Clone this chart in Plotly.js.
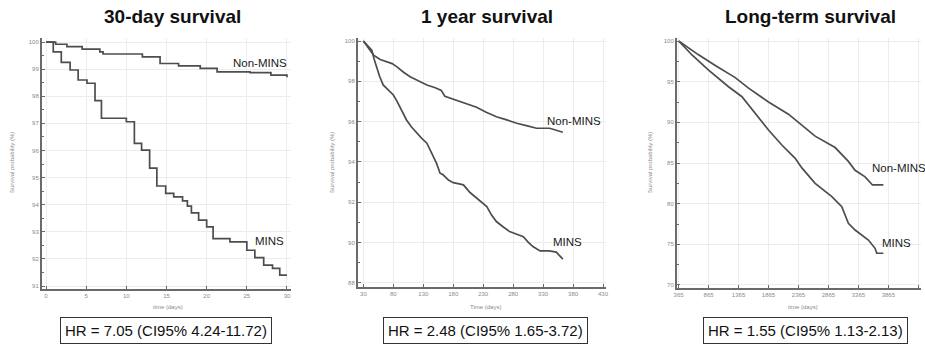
<!DOCTYPE html>
<html>
<head>
<meta charset="utf-8">
<script src="https://cdn.plot.ly/plotly-3.0.1.min.js"></script>
<style>html,body{margin:0;padding:0;background:#fff}#chart{width:925px;height:347px}</style>
</head>
<body>
<div id="chart"></div>
<script>
// ---- Data ----
const panelTitles = ["30-day survival", "1 year survival", "Long-term survival"];
const hrLabels = ["HR = 7.05 (CI95% 4.24-11.72)", "HR = 2.48 (CI95% 1.65-3.72)", "HR = 1.55 (CI95% 1.13-2.13)"];
const xTitles = ["time (days)", "Time (days)", "time (days)"];
const yTitle = "Survival probability (%)";
const seriesNames = ["Non-MINS", "MINS"];

// 30-day
const d30_nonMINS_t = [0, 1.2, 2.6, 4.5, 6.7, 7.1, 10.8, 12.0, 14.2, 16.5, 19.2, 21.3, 25.4, 28.0, 30];
const d30_nonMINS_s = [100, 99.92, 99.83, 99.74, 99.64, 99.56, 99.56, 99.45, 99.21, 99.12, 99.03, 98.90, 98.87, 98.78, 98.70];
const d30_MINS_t = [0, 0.9, 1.9, 3.0, 4.0, 5.1, 6.1, 6.9, 10.0, 11.0, 11.9, 12.9, 13.8, 14.9, 15.9, 17.0, 17.6, 18.1, 19.0, 20.0, 20.8, 22.9, 25.0, 26.0, 27.1, 28.2, 29.1, 30.0];
const d30_MINS_s = [100, 99.64, 99.25, 98.97, 98.60, 98.48, 97.84, 97.19, 97.06, 96.26, 96.01, 95.35, 94.69, 94.42, 94.29, 94.14, 93.95, 93.70, 93.43, 93.18, 92.75, 92.63, 92.32, 92.05, 91.77, 91.65, 91.40, 91.40];

// 1 year
const y1_nonMINS_t = [30, 40, 47, 58, 69, 78, 86, 97, 108, 122, 136, 150, 160, 166, 178, 191, 205, 219, 235, 252, 268, 286, 302, 319, 341, 352, 363];
const y1_nonMINS_s = [100, 99.62, 99.30, 99.08, 98.97, 98.88, 98.72, 98.45, 98.23, 98.02, 97.82, 97.68, 97.55, 97.26, 97.14, 96.99, 96.86, 96.71, 96.46, 96.24, 96.10, 95.92, 95.80, 95.67, 95.67, 95.56, 95.47];
const y1_MINS_t = [30, 36, 44, 48, 52, 57, 63, 72, 80, 86, 91, 96, 102, 110, 119, 127, 136, 144, 152, 158, 163, 172, 180, 188, 197, 208, 222, 236, 244, 252, 263, 274, 285, 297, 305, 313, 325, 340, 352, 358, 363];
const y1_MINS_s = [100, 99.80, 99.55, 99.10, 98.72, 98.25, 97.82, 97.55, 97.32, 97.02, 96.74, 96.42, 96.08, 95.74, 95.42, 95.18, 94.93, 94.40, 93.94, 93.44, 93.36, 93.10, 92.97, 92.92, 92.86, 92.48, 92.12, 91.78, 91.36, 91.04, 90.78, 90.54, 90.42, 90.29, 90.02, 89.80, 89.58, 89.58, 89.52, 89.32, 89.17];

// Long-term
const lt_nonMINS_t = [365, 698, 977, 1310, 1532, 1865, 2198, 2422, 2643, 2977, 3198, 3310, 3477, 3600, 3782];
const lt_nonMINS_s = [100, 98.3, 97.0, 95.5, 94.2, 92.5, 91.0, 89.7, 88.3, 86.9, 85.2, 84.1, 83.3, 82.3, 82.3];
const lt_MINS_t = [365, 588, 865, 1198, 1422, 1643, 1865, 2088, 2310, 2422, 2532, 2643, 2922, 3088, 3198, 3310, 3532, 3643, 3672, 3782];
const lt_MINS_s = [100, 98.28, 96.43, 94.38, 93.15, 91.11, 89.06, 87.21, 85.58, 84.4, 83.5, 82.50, 80.86, 79.63, 77.58, 76.76, 75.53, 74.51, 73.9, 73.9];

// ---- Layout helpers ----
const W = 925, H = 347;
const px = x => x / W, py = y => 1 - y / H;
const lineCol = '#4d4d4d';
const axisCol = '#6a6a6a';
const sans = 'Liberation Sans, Arial, sans-serif';

function trace(t, s, xa, ya, name, shape) {
  return {x: t, y: s, xaxis: xa, yaxis: ya, name: name, type: 'scatter', mode: 'lines',
    line: {color: lineCol, width: 1.7, shape: shape || 'linear'}, hoverinfo: 'skip'};
}

const data = [
  trace(d30_nonMINS_t, d30_nonMINS_s, 'x', 'y', seriesNames[0], 'hv'),
  trace(d30_MINS_t, d30_MINS_s, 'x', 'y', seriesNames[1], 'hv'),
  trace(y1_nonMINS_t, y1_nonMINS_s, 'x2', 'y2', seriesNames[0]),
  trace(y1_MINS_t, y1_MINS_s, 'x2', 'y2', seriesNames[1]),
  trace(lt_nonMINS_t, lt_nonMINS_s, 'x3', 'y3', seriesNames[0]),
  trace(lt_MINS_t, lt_MINS_s, 'x3', 'y3', seriesNames[1])
];

function xax(dom, range, tick0, dtick, anchor) {
  return {domain: dom, range: range, tick0: tick0, dtick: dtick, anchor: anchor,
    ticks: 'inside', ticklen: 3, tickcolor: axisCol, tickwidth: 1,
    showline: true, linecolor: axisCol, linewidth: 2, mirror: false,
    showgrid: true, gridcolor: '#ececec', gridwidth: 1, zeroline: false,
    tickfont: {family: sans, size: 6, color: '#8a8a8a'}, fixedrange: true};
}
function yax(dom, range, dtick, minor, anchor) {
  return {domain: dom, range: range, dtick: dtick, tick0: 0, anchor: anchor,
    ticks: 'inside', ticklen: 3, tickcolor: axisCol, tickwidth: 1,
    minor: {ticks: 'inside', ticklen: 2, dtick: minor, tickcolor: axisCol, showgrid: false},
    showline: true, linecolor: axisCol, linewidth: 2, mirror: false,
    showgrid: true, gridcolor: '#ececec', gridwidth: 1, zeroline: false,
    tickfont: {family: sans, size: 6, color: '#8a8a8a'}, fixedrange: true};
}

const annotations = [];
function ann(text, x, y, font, extra) {
  annotations.push(Object.assign({text: text, x: px(x), y: py(y), xref: 'paper', yref: 'paper',
    showarrow: false, xanchor: 'center', yanchor: 'middle', font: font}, extra || {}));
}
// Titles
const titleX = [172, 487, 810];
panelTitles.forEach((t, i) => ann('<b>' + t + '</b>', titleX[i], 17, {family: sans, size: 19, color: '#111'}));
// HR boxes
const hrX = [166, 486, 805];
hrLabels.forEach((t, i) => ann(t, hrX[i], 330, {family: sans, size: 15, color: '#111'},
  {bordercolor: '#333', borderwidth: 1, borderpad: 4, bgcolor: '#fff'}));
// axis titles
const xtX = [168, 485, 803];
xTitles.forEach((t, i) => ann(t, xtX[i], 307, {family: sans, size: 6, color: '#8a8a8a'}));
const ytX = [12, 332, 650];
ytX.forEach(x => ann(yTitle, x, 163, {family: sans, size: 6, color: '#8a8a8a'}, {textangle: -90}));
// series labels
const lblFont = {family: sans, size: 11.5, color: '#1a1a1a'};
ann(seriesNames[0], 260, 63, lblFont);
ann(seriesNames[1], 269, 241, lblFont);
ann(seriesNames[0], 574, 121, lblFont);
ann(seriesNames[1], 567, 242, lblFont);
ann(seriesNames[0], 899, 168, lblFont);
ann(seriesNames[1], 896, 243, lblFont);

const layout = {
  width: W, height: H, margin: {l: 0, r: 0, t: 0, b: 0},
  paper_bgcolor: '#fff', plot_bgcolor: '#fff', showlegend: false,
  xaxis: xax([px(42), px(291)], [-0.5, 30.5], 0, 5, 'y'),
  yaxis: yax([py(289), py(38)], [90.89, 100.15], 1, 0.5, 'x'),
  xaxis2: xax([px(358), px(606)], [21, 435], 30, 50, 'y2'),
  yaxis2: yax([py(287), py(38)], [87.79, 100.15], 2, 1, 'x2'),
  xaxis3: xax([px(677), px(921)], [338, 4410], 365, 500, 'y3'),
  yaxis3: yax([py(288), py(38)], [69.63, 100.37], 5, 2.5, 'x3'),
  annotations: annotations
};

Plotly.newPlot('chart', data, layout, {staticPlot: true, displayModeBar: false});
</script>
</body>
</html>
